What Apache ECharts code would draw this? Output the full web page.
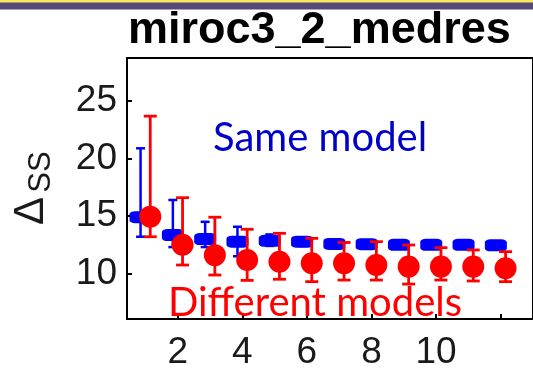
<!DOCTYPE html>
<html><head><meta charset="utf-8">
<script src="https://cdn.jsdelivr.net/npm/echarts@6/dist/echarts.min.js"></script>
<style>html,body{margin:0;padding:0;background:#fff}#c{width:533px;height:375px}</style>
</head><body><div id="c"></div>
<script>
// ---- data ----
const ensembleSize = [1,2,3,4,5,6,7,8,9,10,11,12];
const sameMean = [14.9, 13.35, 13.0, 12.77, 12.85, 12.77, 12.57, 12.55, 12.5, 12.5, 12.5, 12.45];
const sameHigh = [20.9, 16.4, 14.5, 14.07, 13.4, 13.15, 12.9, 12.9, 12.85, 12.85, 12.85, 12.8];
const sameLow  = [13.2, 12.3, 12.3, 11.5, 12.4, 12.4, 12.25, 12.2, 12.15, 12.15, 12.15, 12.1];
const diffMean = [14.95, 12.5, 11.6, 11.17, 11.03, 10.89, 10.89, 10.74, 10.6, 10.6, 10.6, 10.45];
const diffHigh = [23.7, 16.6, 14.9, 13.85, 13.5, 13.06, 12.7, 12.77, 12.48, 12.25, 12.05, 11.9];
const diffLow  = [13.2, 10.74, 9.87, 9.4, 9.5, 9.29, 9.43, 9.43, 9.08, 9.43, 9.35, 9.29];
const xTicks = [2,4,6,8,10,12];
const xTickLabels = [2,4,6,8,10];
const yTicks = [10,15,20,25];
const titleText = 'miroc3_2_medres';
const sameLabel = 'Same model';
const diffLabel = 'Different models';

const OFFSET = 0.15;
const BLUE = '#0000ff', RED = '#ff0000';

function pts(means, sign){ return ensembleSize.map((n,i)=>[n + sign*OFFSET, means[i]]); }
function errs(lo, hi, sign){ return ensembleSize.map((n,i)=>[n + sign*OFFSET, lo[i], hi[i]]); }
function errRender(capW, color, lw){
  return function(params, api){
    const x = api.value(0);
    const a = api.coord([x, api.value(1)]);
    const b = api.coord([x, api.value(2)]);
    const st = {stroke: color, lineWidth: lw};
    return {type:'group', children:[
      {type:'line', shape:{x1:a[0],y1:a[1],x2:b[0],y2:b[1]}, style:st},
      {type:'line', shape:{x1:a[0]-capW/2,y1:a[1],x2:a[0]+capW/2,y2:a[1]}, style:st},
      {type:'line', shape:{x1:b[0]-capW/2,y1:b[1],x2:b[0]+capW/2,y2:b[1]}, style:st}
    ]};
  };
}

const chart = echarts.init(document.getElementById('c'), null, {renderer:'canvas'});
const labelFont = {fontFamily:'Liberation Sans', fontSize:37, color:'#1a1a1a'};
chart.setOption({
  animation:false,
  grid:{left:127, top:58, bottom:56, right:-17.6, show:true, borderColor:'#000', borderWidth:2, backgroundColor:'transparent'},
  xAxis:{type:'value', min:0.43, max:13,
    axisLine:{show:true, onZero:false, lineStyle:{color:'#000', width:2}},
    splitLine:{show:false},
    axisTick:{show:true, inside:true, length:5, customValues:xTicks, lineStyle:{color:'#000', width:2}},
    axisLabel:Object.assign({customValues:xTickLabels, margin:15}, labelFont)},
  yAxis:{type:'value', min:6.04, max:28.76,
    axisLine:{show:true, lineStyle:{color:'#000', width:2}},
    splitLine:{show:false},
    axisTick:{show:true, inside:true, length:5, customValues:yTicks, lineStyle:{color:'#000', width:2}},
    axisLabel:Object.assign({customValues:yTicks, margin:10}, labelFont)},
  series:[
    {type:'custom', data:errs(sameLow, sameHigh, -1), renderItem:errRender(9, BLUE, 2.5), z:2},
    {type:'scatter', data:pts(sameMean, -1), symbol:'roundRect', symbolSize:[22,12], itemStyle:{color:BLUE, opacity:1}, z:3},
    {type:'scatter', data:pts(diffMean, 1), symbol:'circle', symbolSize:22, itemStyle:{color:RED, opacity:1}, z:4},
    {type:'custom', data:errs(diffLow, diffHigh, 1), renderItem:errRender(13, RED, 2.8), z:5}
  ],
  graphic:[
    {type:'rect', shape:{x:0,y:0,width:533,height:3}, style:{fill:'#f6e85a'}, z:100},
    {type:'rect', shape:{x:0,y:2.5,width:533,height:7}, style:{fill:'#584876'}, z:100},
    {type:'text', x:128, y:31, style:{text:titleText, font:'bold 45px "Liberation Sans"', fill:'#000', align:'left', verticalAlign:'middle'}, z:50},
    {type:'text', x:31, y:211, rotation:Math.PI/2, style:{text:'Δ', font:'42px "Liberation Sans"', fill:'#1a1a1a', align:'center', verticalAlign:'middle'}, z:50},
    {type:'text', x:41, y:172, rotation:Math.PI/2, style:{text:'SS', font:'31px "Liberation Sans"', fill:'#1a1a1a', align:'center', verticalAlign:'middle'}, z:50},
    {type:'text', x:213, y:138, style:{text:sameLabel, font:'40px Lato', fill:'#0000c8', align:'left', verticalAlign:'middle'}, z:50},
    {type:'text', x:168, y:303, style:{text:diffLabel, font:'40px Lato', fill:'#ff0000', align:'left', verticalAlign:'middle'}, z:50}
  ]
});
</script></body></html>
